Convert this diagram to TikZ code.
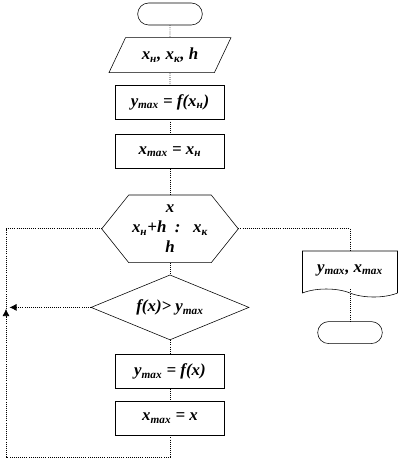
\documentclass[tikz,border=0pt]{standalone}
\usepackage{fontspec}
\setmainfont{Liberation Serif}
\usetikzlibrary{calc, positioning, arrows.meta, shapes.geometric, shapes.misc, shapes.symbols}

\begin{document}
\begin{tikzpicture}
  [x=0.025cm, y=-0.025cm, node distance=0.3cm, text centered,
   font=\bfseries\itshape\fontsize{12}{14}\selectfont,
   box/.style={draw, rectangle, thin, minimum width=2.72cm, minimum height=0.85cm},
   term/.style={draw, rounded rectangle, thin, minimum width=1.85cm, minimum height=0.55cm},
   io/.style={draw, trapezium, thin, trapezium left angle=55, trapezium right angle=125,
     trapezium stretches body, minimum width=3.05cm, minimum height=0.875cm},
   cond/.style={draw, diamond, thin, inner sep=0pt, aspect=2.43, minimum width=3.95cm, minimum height=1.625cm},
   doc/.style={draw, tape, thin, tape bend top=none, tape bend bottom=out and in,
     tape bend height=0.2cm, minimum width=2.375cm, minimum height=1.15cm},
   loopblk/.style={rectangle, align=center, minimum width=3.4cm, minimum height=1.675cm},
   link/.style={densely dotted, line width=.5}]
  \useasboundingbox (0,0) rectangle (400,459);

  % nodes %
  \node[term] (start) at (170,14) {};
  \node[io, below=of start] (in) {x\textsubscript{н}, x\textsubscript{к}, h};
  \node[box, below=of in] (b1) {y\textsubscript{max} = f(x\textsubscript{н})};
  \node[box, below=0.375cm of b1] (b2) {x\textsubscript{max} = x\textsubscript{н}};
  \node[loopblk, below=0.65cm of b2] (hex) {x\\ x\textsubscript{н}+h \ :\ \ \ x\textsubscript{к}\\ h};
  \node[cond, below=of hex] (c) {f(x)> y\textsubscript{max}};
  \node[box, below=0.35cm of c] (b3) {y\textsubscript{max} = f(x)};
  \node[box, below=of b3] (b4) {x\textsubscript{max} = x};
  \node[doc] (out) at (350,270) {y\textsubscript{max}, x\textsubscript{max}};
  \node[term, below=0.8cm of out] (stop) {};
  \coordinate (lb) at (6,457);
  \coordinate (la) at (6,309);

  % hexagon outline %
  \draw[thin] ([xshift=0.675cm]hex.north west) -- ([xshift=-0.675cm]hex.north east)
    -- (hex.east) -- ([xshift=-0.675cm]hex.south east)
    -- ([xshift=0.675cm]hex.south west) -- (hex.west) -- cycle;

  % edges %
  \draw[link] (start) -- (in);
  \draw[link] (in) -- (b1);
  \draw[link] (b1) -- (b2);
  \draw[link] (b2) -- (hex);
  \draw[link] (hex) -- (c);
  \draw[link] (c) -- (b3);
  \draw[link] (b3) -- (b4);
  \draw[link] (hex.east) -| (out.north);
  \draw[link] (out.south) -- (stop);
  \draw[link, -{Latex[length=5pt,width=5pt]}] (b4.south) |- (lb) -- (la);
  \draw[link] (la) |- (hex.west);
  \draw[link, -{Latex[length=5pt,width=5pt]}, shorten >=2.5pt] (c.west) -- (c.west -| la);
\end{tikzpicture}
\end{document}
